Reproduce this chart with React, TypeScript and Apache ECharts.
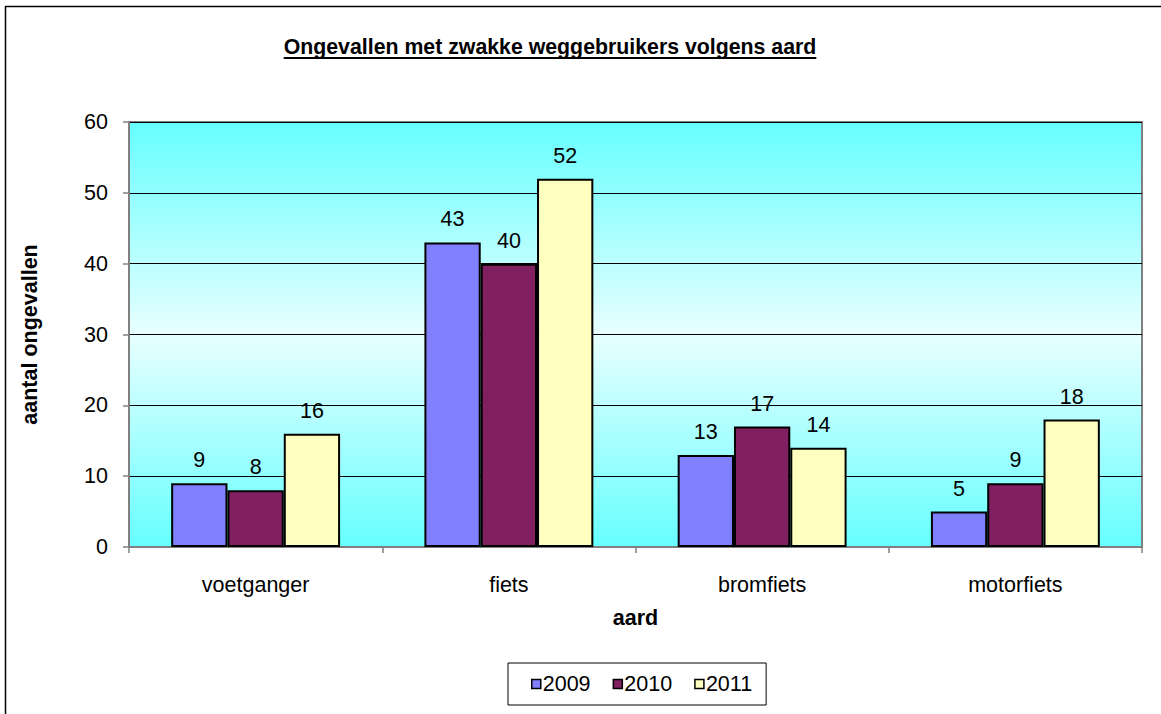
import React, { useEffect, useRef } from "react";
import * as echarts from "echarts";

const categories = ["voetganger", "fiets", "bromfiets", "motorfiets"];
const seriesNames = ["2009", "2010", "2011"];
const values2009 = [9, 43, 13, 5];
const values2010 = [8, 40, 17, 9];
const values2011 = [16, 52, 14, 18];
const yTicks = [0, 10, 20, 30, 40, 50, 60];
const titleText = "Ongevallen met zwakke weggebruikers volgens aard";
const xAxisName = "aard";
const yAxisName = "aantal ongevallen";

const FONT = 'Arial, "Liberation Sans", sans-serif';
const FS = 21.5;
const colors = ["#8080FF", "#802060", "#FFFFC0"];

export default function App() {
  const ref = useRef<HTMLDivElement>(null);
  useEffect(() => {
    if (!ref.current) return;
    const chart = echarts.init(ref.current, undefined, { renderer: "svg" });
    const canvas = document.createElement("canvas");
    const ctx = canvas.getContext("2d")!;
    const titleFont = "bold 21.3px " + FONT;
    ctx.font = titleFont;
    const tw = ctx.measureText(titleText).width;
    const tcx = 550;
    const valuesAll = [values2009, values2010, values2011];
    chart.setOption({
      animation: false,
      backgroundColor: "#ffffff",
      textStyle: { fontFamily: FONT },
      graphic: [
        {
          type: "rect",
          shape: { x: 5.5, y: 6.5, width: 1300, height: 900 },
          style: { fill: "none", stroke: "#000", lineWidth: 1.5 },
          silent: true,
        },
        {
          type: "text",
          x: tcx,
          y: 47,
          style: {
            text: titleText,
            font: titleFont,
            fill: "#000",
            align: "center",
            verticalAlign: "middle",
          },
        },
        {
          type: "line",
          shape: { x1: tcx - tw / 2, y1: 58, x2: tcx + tw / 2, y2: 58 },
          style: { stroke: "#000", lineWidth: 2 },
        },
      ],
      grid: {
        left: 129,
        top: 122,
        right: 19,
        bottom: 167,
        show: true,
        borderColor: "#808080",
        borderWidth: 2,
        backgroundColor: {
          type: "linear",
          x: 0,
          y: 0,
          x2: 0,
          y2: 1,
          colorStops: [
            { offset: 0, color: "#66FFFF" },
            { offset: 0.5, color: "#E8FFFF" },
            { offset: 1, color: "#66FFFF" },
          ],
        },
      },
      legend: {
        data: seriesNames,
        left: 508,
        top: 663,
        orient: "horizontal",
        padding: [10, 14, 10, 23],
        itemGap: 22,
        itemWidth: 9,
        itemHeight: 9,
        borderColor: "#000",
        borderWidth: 1,
        icon: "rect",
        itemStyle: { borderColor: "#000", borderWidth: 1.5 },
        textStyle: { fontSize: FS, color: "#000", fontFamily: FONT, padding: [0, 0, 0, -3] },
      },
      xAxis: {
        type: "category",
        data: categories,
        name: xAxisName,
        nameLocation: "middle",
        nameGap: 60,
        nameTextStyle: { fontSize: FS, fontWeight: "bold", color: "#000", fontFamily: FONT },
        axisLine: { lineStyle: { color: "#808080", width: 2 } },
        axisTick: { show: true, alignWithLabel: false, length: 6, lineStyle: { color: "#808080", width: 1.5 } },
        axisLabel: { fontSize: FS, color: "#000", margin: 27, fontFamily: FONT },
        splitLine: { show: false },
      },
      yAxis: {
        type: "value",
        min: yTicks[0],
        max: yTicks[yTicks.length - 1],
        interval: 10,
        name: yAxisName,
        nameLocation: "middle",
        nameGap: 88,
        nameRotate: 90,
        nameTextStyle: { fontSize: FS, fontWeight: "bold", color: "#000", fontFamily: FONT },
        axisLine: { show: true, lineStyle: { color: "#808080", width: 2 } },
        axisTick: { show: true, length: 6, lineStyle: { color: "#808080", width: 1.5 } },
        axisLabel: { fontSize: FS, color: "#000", margin: 21, fontFamily: FONT },
        splitLine: { show: true, lineStyle: { color: "#000", width: 1 } },
      },
      series: seriesNames.map((name, i) => ({
        name,
        type: "bar",
        data: valuesAll[i],
        barGap: "0%",
        barCategoryGap: "33.3%",
        itemStyle: { color: colors[i], borderColor: "#000", borderWidth: 2 },
        label: {
          show: true,
          position: "top",
          distance: 12,
          fontSize: FS,
          color: "#000",
          fontFamily: FONT,
        },
      })),
    });
    return () => chart.dispose();
  }, []);
  return (
    <div
      ref={ref}
      style={{ position: "fixed", left: 0, top: 0, width: 1161, height: 714 }}
    />
  );
}
